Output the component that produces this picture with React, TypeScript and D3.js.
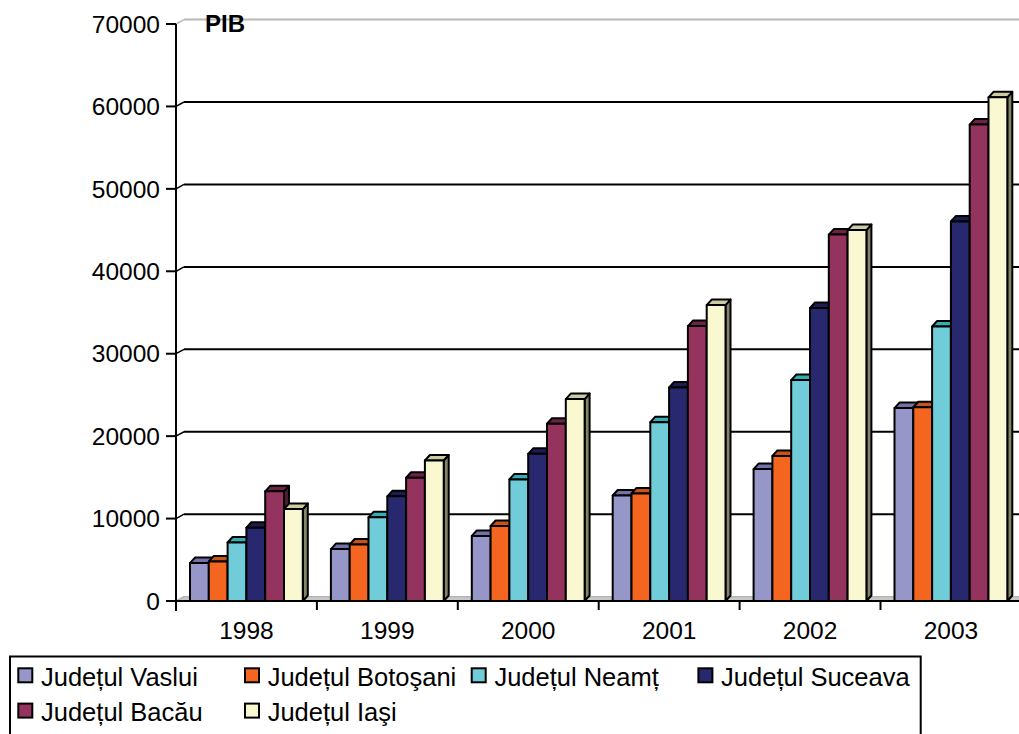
import React from "react";
import * as d3 from "d3";

const years = ["1998", "1999", "2000", "2001", "2002", "2003"];
const seriesNames = [
  "Județul Vaslui",
  "Județul Botoşani",
  "Județul Neamț",
  "Județul Suceava",
  "Județul Bacău",
  "Județul Iaşi",
];
const vaslui = [4600, 6300, 7900, 12800, 16000, 23400];
const botosani = [4800, 6850, 9100, 13050, 17600, 23500];
const neamt = [7100, 10150, 14750, 21700, 26800, 33300];
const suceava = [8900, 12700, 17850, 25900, 35550, 46050];
const bacau = [13300, 14950, 21500, 33350, 44450, 57800];
const iasi = [11150, 17050, 24500, 35900, 45000, 61100];
const seriesValues = [vaslui, botosani, neamt, suceava, bacau, iasi];
const yTicks = [0, 10000, 20000, 30000, 40000, 50000, 60000, 70000];

const frontColors = ["#9696C8", "#F4661F", "#70CCD8", "#28286E", "#94335E", "#FAF8D0"];
const topColors = ["#7272A8", "#C4541C", "#33AEB2", "#1C1C52", "#6C2444", "#CCCBA4"];
const sideColors = ["#55557E", "#8E3C12", "#257E82", "#14143A", "#4E1A31", "#84846A"];

const W = 1019;
const H = 734;
const axisX = 176;
const catW = 140.9;
const plotRight = axisX + catW * years.length;
const wallDx = 8;
const wallDy = -4.4;
const barDx = 5;
const barDy = -5.5;
const barW = 18.8;
const barOffset = 14;

const y = d3.scaleLinear().domain([0, 70000]).range([601, 24]);
const x = d3.scaleBand<string>().domain(years).range([axisX, plotRight]).padding(0);
const xs = d3
  .scaleBand<string>()
  .domain(seriesNames)
  .range([barOffset, barOffset + barW * seriesNames.length])
  .padding(0);

const axisFont = "'Liberation Sans', Arial, sans-serif";

function Bar({ x0, v, si }: { x0: number; v: number; si: number }) {
  const x1 = x0 + barW;
  const yt = y(v);
  const yb = y(0);
  const front = `M${x0},${yb}L${x0},${yt}L${x1},${yt}L${x1},${yb}Z`;
  const top = `M${x0},${yt}L${x0 + barDx},${yt + barDy}L${x1 + barDx},${yt + barDy}L${x1},${yt}Z`;
  const side = `M${x1},${yt}L${x1 + barDx},${yt + barDy}L${x1 + barDx},${yb + barDy}L${x1},${yb}Z`;
  return (
    <g stroke="#000" strokeWidth={2} strokeLinejoin="round">
      <path d={side} fill={sideColors[si]} />
      <path d={top} fill={topColors[si]} />
      <path d={front} fill={frontColors[si]} />
    </g>
  );
}

export default function App() {
  const floorBack = y(0) + wallDy;
  return (
    <svg
      width={W}
      height={H}
      viewBox={`0 0 ${W} ${H}`}
      style={{ position: "absolute", left: 0, top: 0, display: "block", background: "#fff" }}
      fontFamily={axisFont}
    >
      <rect width={W} height={H} fill="#fff" />
      {/* floor */}
      <path
        d={`M${axisX},${y(0)}L${plotRight},${y(0)}L${plotRight + wallDx},${floorBack}L${axisX + wallDx},${floorBack}Z`}
        fill="#c8c8c8"
        stroke="#8a8a8a"
        strokeWidth={1}
      />
      {/* gridlines on back wall */}
      {yTicks.map((t) => {
        const isEdge = t === 0 || t === 70000;
        const col = isEdge ? "#b8b8b8" : "#000";
        return (
          <g key={t}>
            <line
              x1={axisX + wallDx}
              x2={plotRight + wallDx}
              y1={y(t) + wallDy}
              y2={y(t) + wallDy}
              stroke={col}
              strokeWidth={t === 0 ? 1 : 2}
            />
            <line
              x1={axisX}
              y1={y(t)}
              x2={axisX + wallDx}
              y2={y(t) + wallDy}
              stroke={col}
              strokeWidth={1.5}
            />
          </g>
        );
      })}
      {/* y axis */}
      <line x1={axisX} x2={axisX} y1={y(70000)} y2={611} stroke="#000" strokeWidth={2} />
      {yTicks.map((t) => (
        <g key={"yt" + t}>
          <line x1={axisX - 10} x2={axisX} y1={y(t)} y2={y(t)} stroke="#000" strokeWidth={2} />
          <text x={160} y={y(t) + 8.7} textAnchor="end" fontSize={24.5} fill="#000">
            {t}
          </text>
        </g>
      ))}
      {/* x axis */}
      <line x1={axisX} x2={plotRight} y1={y(0)} y2={y(0)} stroke="#000" strokeWidth={2} />
      {years.map((yr) => (
        <line
          key={"xt" + yr}
          x1={(x(yr) as number) + catW}
          x2={(x(yr) as number) + catW}
          y1={y(0)}
          y2={y(0) + 9}
          stroke="#000"
          strokeWidth={2}
        />
      ))}
      {years.map((yr) => (
        <text
          key={"xl" + yr}
          x={(x(yr) as number) + x.bandwidth() / 2}
          y={639}
          textAnchor="middle"
          fontSize={24.5}
          fill="#000"
        >
          {yr}
        </text>
      ))}
      {/* bars */}
      {years.map((yr, yi) => (
        <g key={"c" + yr}>
          {seriesNames.map((s, si) => (
            <Bar key={s} x0={(x(yr) as number) + (xs(s) as number)} v={seriesValues[si][yi]} si={si} />
          ))}
        </g>
      ))}
      {/* title */}
      <text x={205} y={32.3} fontSize={24} fontWeight="bold" fill="#000">
        PIB
      </text>
      {/* legend */}
      <rect x={10} y={656.5} width={910.7} height={120} fill="#fff" stroke="#000" strokeWidth={2} />
      {seriesNames.map((s, i) => {
        const col = i % 4;
        const row = Math.floor(i / 4);
        const sx = 18.3 + col * 226.7;
        const sy = 668.3 + row * 35.3;
        return (
          <g key={"lg" + s}>
            <rect x={sx} y={sy} width={14} height={14} fill={frontColors[i]} stroke="#000" strokeWidth={2} />
            <text x={sx + 22.7} y={685.7 + row * 35.3} fontSize={25.5} fill="#000">
              {s}
            </text>
          </g>
        );
      })}
    </svg>
  );
}
